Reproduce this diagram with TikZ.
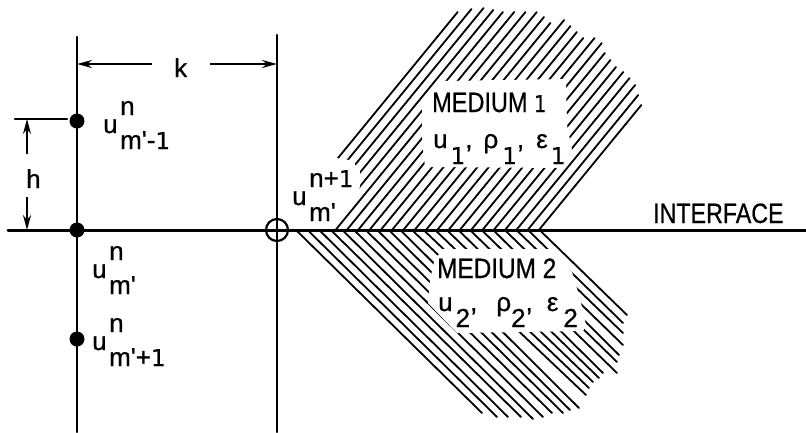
\documentclass[tikz,border=0pt]{standalone}
\usepackage{fontspec}
\newfontfamily\labfont{Liberation Sans}[FakeBold=0.7]
\newfontfamily\onefont{DejaVu Sans}[FakeBold=0.4]
\usetikzlibrary{arrows.meta}
\newcommand{\lab}[1]{\fontsize{#1}{#1}\selectfont}
\newcommand{\onedig}{{\onefont\fontsize{23}{23}\selectfont 1}}
\newcommand{\uterm}[2]{u\hspace{2.5pt}\rlap{\raisebox{18pt}{#1}}\raisebox{-16pt}{#2}}
\newcommand{\dn}[1]{\raisebox{-16pt}{#1}}
\tikzset{
  x=1pt,y=-1pt,
  heavy/.style={line width=2.5pt,line cap=round},
  hatchline/.style={line width=1.8pt,line cap=round},
  dim/.style={line width=2pt,-{Stealth[length=15pt,width=8pt]}},
  dot/.style={circle,fill=black,inner sep=0pt,minimum size=15pt},
  txt/.style={inner sep=0pt,anchor=base west,font={\labfont\lab{26}}},
  hole/.style={fill=white,draw=none}
}
\begin{document}
\begin{tikzpicture}
\useasboundingbox (0,0) rectangle (806,432);
\fill[white] (0,0) rectangle (806,432);
% upper hatch
\foreach \i/\ye in {0/12,1/9,2/8,3/10,4/12,5/12,6/12,7/12,8/17,9/23,10/20,11/26,12/32,13/38,14/38,15/43,16/53,17/60,18/67,19/72,20/78,21/85,22/95,23/105}{
  \pgfmathsetmacro{\bx}{279+11.3*\i}
  \pgfmathsetmacro{\ex}{\bx+(230-\ye)/1.22}
  \draw[hatchline] (\bx,230) -- (\ex,\ye);
}
% lower hatch
\foreach \j/\xe/\ye in {0/482/413,1/497/417,2/508/417,3/521/417,4/533/419,5/543/417,6/552/413,7/563/413,8/570/410,9/579/408,10/586/395,11/589/388,12/593/382,13/599/378,14/603/373,15/617/373,16/617/362,17/619/355,18/623/345,19/623/333,20/623/323,21/627/315}{
  \pgfmathsetmacro{\bx}{297+11.6*\j}
  \draw[hatchline] (\bx,231) -- (\xe,\ye);
}
% white openings
\fill[hole] (422,108) -- (443,81) -- (566,79) -- (567,125) -- (572,150) -- (558,168) -- (425,167) -- (422,140) -- cycle;
\fill[hole] (442,249) -- (552,249) -- (572,272) -- (578,292) -- (582,307) -- (586,325) -- (583,331) -- (457,333) -- (428,303) -- (430,280) -- (434,262) -- cycle;
\fill[hole] (279,229) -- (333,229) -- (357,200) -- (360,186) -- (360,172) -- (354,163) -- (349,160) -- (336,158) -- (279,158) -- cycle;
% grid
\coordinate (lt) at (77,37);
\coordinate (lb) at (77,432);
\coordinate (rt) at (277,35);
\coordinate (rb) at (277,432);
\coordinate (il) at (8,230.5);
\coordinate (ir) at (806,230.5);
\coordinate (tl) at (15,119);
\coordinate (tr) at (67,119);
\coordinate (kl) at (77,64);
\coordinate (kr) at (277,64);
\coordinate (ka) at (152,64);
\coordinate (kb) at (210,64);
\coordinate (ha) at (27,154);
\coordinate (hb) at (27,197);
\coordinate (ht) at (27,119);
\coordinate (hd) at (27,230);
\draw[heavy] (lt) -- (lb);
\draw[heavy] (rt) -- (rb);
\draw[heavy,line width=3pt] (il) -- (ir);
\node[dot] (d1) at (77,121) {};
\node[dot] (d2) at (77,230) {};
\node[dot] (d3) at (77,339) {};
\node[circle,draw,line width=2.2pt,inner sep=0pt,minimum size=22pt] (c) at (277,230) {};
\draw[heavy] (tl) -- (tr);
\draw[dim] (ka) -- (kl);
\draw[dim] (kb) -- (kr);
\draw[dim] (ha) -- (ht);
\draw[dim] (hb) -- (hd);
% labels
\node[txt] (tk) at (174,77) {k};
\node[txt] (th) at (26,188) {h};
\node[txt] (t1) at (103,133) {\uterm{n}{m'-\onedig}};
\node[txt] (t2) at (92,278) {\uterm{n}{m'}};
\node[txt] (t3) at (92,350) {\uterm{n}{m'+\onedig}};
\node[txt] (t4) at (292,205) {\uterm{n+\onedig}{m'}};
\node[txt,font={\labfont\lab{28}},xscale=.83,transform shape] (ti) at (653,223) {INTERFACE};
\node[txt,font={\labfont\lab{28}},xscale=.84,transform shape] (m1) at (432,112) {MEDIUM \onedig};
\node[txt,font={\labfont\lab{28}},xscale=.87,transform shape] (m2) at (437,278) {MEDIUM 2};
\node[txt] (p1) at (433,148) {u\hspace{3pt}\dn{\onedig},\hspace{11pt}ρ\hspace{4pt}\dn{\onedig},\hspace{12pt}ε\hspace{3pt}\dn{\onedig}};
\node[txt] (p2) at (438,311) {u\hspace{3pt}\dn{2},\hspace{19pt}ρ\hspace{0pt}\dn{2},\hspace{14pt}ε\hspace{5pt}\dn{2}};
\end{tikzpicture}
\end{document}
